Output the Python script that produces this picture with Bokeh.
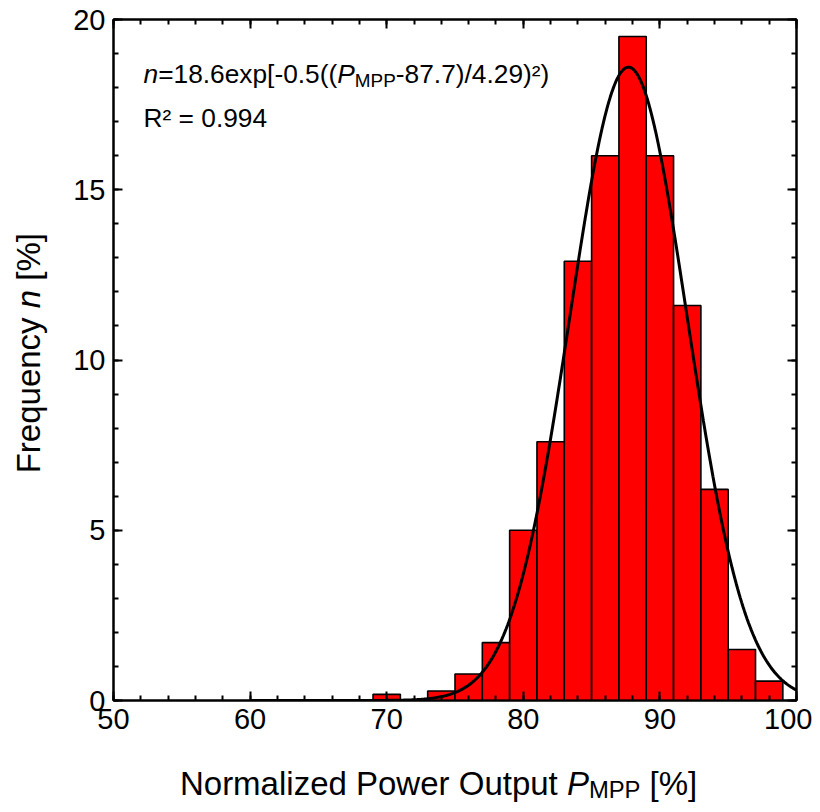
import numpy as np
from bokeh.plotting import figure
from bokeh.layouts import row, column
from bokeh.models import Label, LinearAxis, SingleIntervalTicker, Range1d, CustomJSTickFormatter
from bokeh.embed import file_html
from bokeh.resources import INLINE

# ---- data ----
bin_left = [69, 73, 75, 77, 79, 81, 83, 85, 87, 89, 91, 93, 95, 97]
bin_right = [71, 75, 77, 79, 81, 83, 85, 87, 89, 91, 93, 95, 97, 99]
freq = [0.18, 0.28, 0.78, 1.7, 5.0, 7.6, 12.9, 16.0, 19.5, 16.0, 11.6, 6.2, 1.5, 0.57]

# Gaussian fit parameters as printed on the chart
fit_amp = 18.6
fit_center = 87.7
fit_sigma = 4.29
fit_r2 = "0.994"

x_ticks_major = 10
y_ticks_major = 5
x_lo, x_hi = 50, 100
y_lo, y_hi = 0, 20

FONT = "Liberation Sans"

# ---- layout sizes ----
YL_W = 55                  # strip holding the y-axis title
MAIN_W, MAIN_H = 757, 750
XL_H = 54                  # strip holding the x-axis title
BL, BR, BT, BB = 58, 16, 19, 50

def blank(fig):
    fig.grid.visible = False
    fig.outline_line_color = None
    fig.background_fill_color = "white"
    fig.border_fill_color = "white"

p = figure(width=MAIN_W, height=MAIN_H, output_backend="svg", toolbar_location=None,
           x_range=Range1d(x_lo, x_hi), y_range=Range1d(y_lo, y_hi),
           min_border_left=BL, min_border_right=BR, min_border_top=BT, min_border_bottom=BB,
           x_axis_location=None, y_axis_location=None)
blank(p)
p.outline_line_color = "black"
p.outline_line_width = 2

def style_axis(ax, labels=True):
    ax.axis_line_width = 2
    ax.axis_line_color = "black"
    ax.major_tick_line_width = 2
    ax.minor_tick_line_width = 2
    ax.major_tick_in = 9
    ax.major_tick_out = 0
    ax.minor_tick_in = 5
    ax.minor_tick_out = 0
    ax.major_label_standoff = 8
    ax.major_label_text_font = FONT
    ax.major_label_text_font_size = "29px"
    ax.major_label_text_color = "black"
    if not labels:
        ax.formatter = CustomJSTickFormatter(code="return ''")

for loc in ["below", "above"]:
    ax = LinearAxis(ticker=SingleIntervalTicker(interval=x_ticks_major, num_minor_ticks=5))
    style_axis(ax, loc == "below")
    p.add_layout(ax, loc)
for loc in ["left", "right"]:
    ax = LinearAxis(ticker=SingleIntervalTicker(interval=y_ticks_major, num_minor_ticks=5))
    style_axis(ax, loc == "left")
    p.add_layout(ax, loc)

# histogram bars
p.quad(left=bin_left, right=bin_right, bottom=0, top=freq,
       fill_color="#ff0000", line_color="black", line_width=1.6)

# fit curve
xs = np.linspace(60, 100, 400)
ys = fit_amp * np.exp(-0.5 * ((xs - fit_center) / fit_sigma) ** 2)
p.line(xs, ys, line_color="black", line_width=3)

# ---- rich text helper ----
HELV = {' ': 278, '!': 278, '%': 889, '(': 333, ')': 333, '+': 584, ',': 278, '-': 333, '.': 278,
        '/': 278, '=': 584, '[': 278, ']': 278, '²': 333,
        'A': 667, 'B': 667, 'C': 722, 'D': 722, 'E': 667, 'F': 611, 'G': 778, 'H': 722, 'I': 278,
        'M': 833, 'N': 722, 'O': 778, 'P': 667, 'R': 722, 'S': 667, 'T': 611,
        'a': 556, 'b': 556, 'c': 500, 'd': 556, 'e': 556, 'f': 278, 'g': 556, 'h': 556, 'i': 222,
        'j': 222, 'k': 500, 'l': 222, 'm': 833, 'n': 556, 'o': 556, 'p': 556, 'q': 556, 'r': 333,
        's': 500, 't': 278, 'u': 556, 'v': 500, 'w': 722, 'x': 500, 'y': 500, 'z': 500}

def tw(s, size):
    return sum(HELV.get(c, 556) for c in s) / 1000.0 * size

def rich(fig, x, y, pieces, size, align="left", vertical=False):
    # pieces: (text, italic, scale, dy_px)
    total = sum(tw(t, size * sc) for t, it, sc, dy in pieces)
    pos = -total / 2 if align == "center" else 0.0
    for t, it, sc, dy in pieces:
        fs = size * sc
        core = t.strip(" ")
        lead = t[:len(t) - len(t.lstrip(" "))]
        trail = t[len(t.rstrip(" ")):]
        pos += tw(lead, fs)
        kw = dict(x=x, y=y, x_units="data", y_units="data", text=core,
                  text_font=FONT, text_font_size=f"{fs:.1f}px",
                  text_font_style="italic" if it else "normal",
                  text_color="black", text_align="left", text_baseline="alphabetic")
        if vertical:
            kw.update(angle=np.pi / 2, y_offset=pos, x_offset=-dy)
        else:
            kw.update(x_offset=pos, y_offset=dy)
        fig.add_layout(Label(**kw))
        pos += tw(core, fs) + tw(trail, fs)

# annotation inside the frame
rich(p, 52.2, 18.4, [("n", True, 1, 0), ("=18.6exp[-0.5((", False, 1, 0), ("P", True, 1, 0),
                     ("MPP", False, 0.72, -7), ("-87.7)/4.29)²)", False, 1, 0)], 26.3)
rich(p, 52.2, 17.1, [("R² = " + fit_r2, False, 1, 0)], 26.3)

# ---- x-axis title strip (aligned with the main frame) ----
px = figure(width=MAIN_W, height=XL_H, output_backend="svg", toolbar_location=None,
            x_range=p.x_range, y_range=Range1d(0, XL_H),
            min_border_left=BL, min_border_right=BR, min_border_top=0, min_border_bottom=0,
            x_axis_location=None, y_axis_location=None)
blank(px)
rich(px, 73.8, 21, [("Normalized Power Output ", False, 1, 0), ("P", True, 1, 0),
                    ("MPP", False, 0.72, -6), (" [%]", False, 1, 0)], 33, align="center")

# ---- y-axis title strip (aligned with the main frame) ----
py = figure(width=YL_W, height=MAIN_H + XL_H, output_backend="svg", toolbar_location=None,
            x_range=Range1d(0, YL_W), y_range=p.y_range,
            min_border_left=0, min_border_right=0, min_border_top=BT,
            min_border_bottom=BB + XL_H,
            x_axis_location=None, y_axis_location=None)
blank(py)
rich(py, 28, 10.2, [("Frequency ", False, 1, 0), ("n", True, 1, 0), (" [%]", False, 1, 0)],
     33, align="center", vertical=True)

layout = row(py, column(p, px, spacing=0), spacing=0)
open("out.html", "w").write(file_html(layout, INLINE))
